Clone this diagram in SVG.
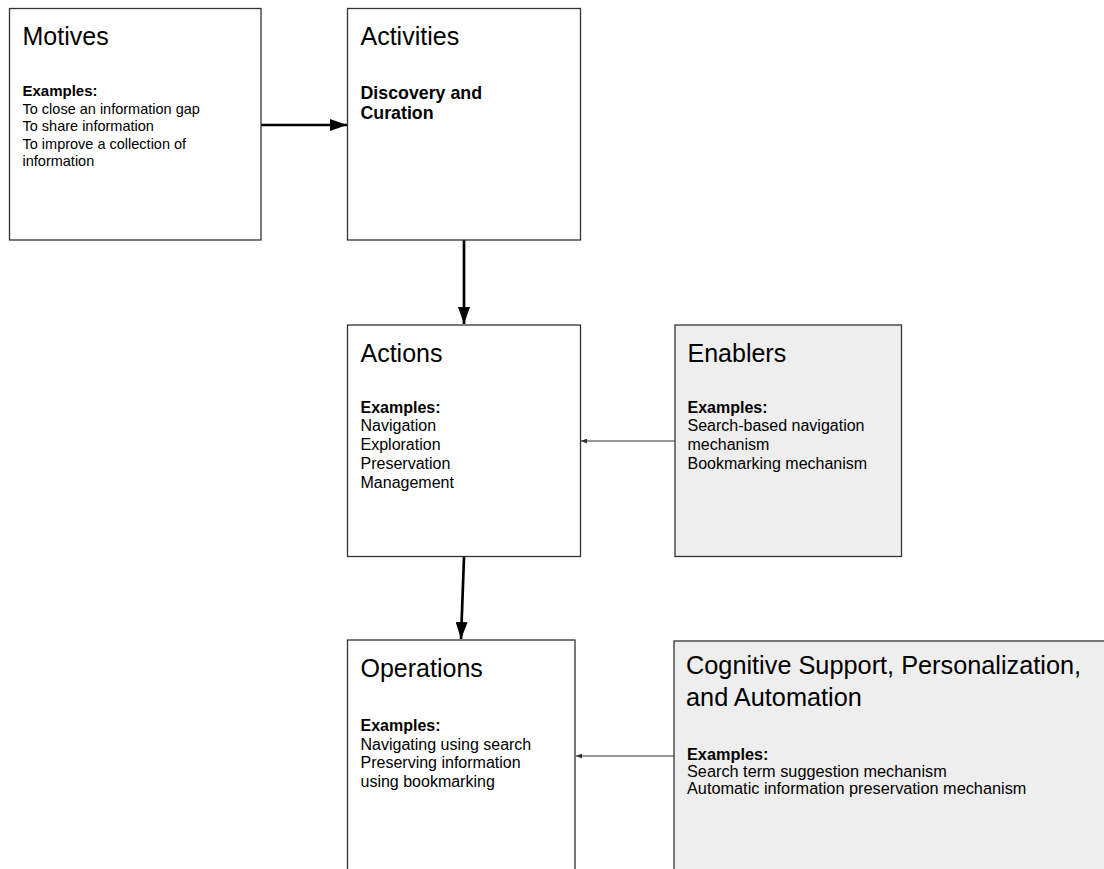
<svg xmlns="http://www.w3.org/2000/svg" width="1104" height="869" viewBox="0 0 1104 869">
<defs>
<style>
.box{fill:#ffffff;stroke:#333333;stroke-width:1.3}
.gray{fill:#eeeeee;stroke:#333333;stroke-width:1.3}
.title{font-family:"Liberation Sans",Arial,sans-serif;font-size:25px;fill:#000}
.b{font-family:"Liberation Sans",Arial,sans-serif;font-weight:bold;fill:#000}
.t{font-family:"Liberation Sans",Arial,sans-serif;fill:#000}
.thick{stroke:#000;stroke-width:2.7;fill:none}
.thin{stroke:#333;stroke-width:1.2;fill:none}
</style>
<marker id="big" markerUnits="userSpaceOnUse" markerWidth="17" markerHeight="12" refX="17" refY="6" orient="auto" viewBox="0 0 17 12">
<path d="M0,0 L17,6 L0,12 z" fill="#000"/>
</marker>
<marker id="small" markerUnits="userSpaceOnUse" markerWidth="6" markerHeight="5" refX="6" refY="2.5" orient="auto" viewBox="0 0 6 5">
<path d="M0,0 L6,2.5 L0,5 z" fill="#333"/>
</marker>
</defs>
<rect width="1104" height="869" fill="#ffffff"/>
<g id="connectors">
<line class="thick" x1="261" y1="125" x2="347" y2="125" marker-end="url(#big)"/>
<line class="thick" x1="464" y1="240" x2="464" y2="324" marker-end="url(#big)"/>
<line class="thick" x1="464" y1="557" x2="461" y2="639" marker-end="url(#big)"/>
<line class="thin" x1="675" y1="441" x2="581" y2="441" marker-end="url(#small)"/>
<line class="thin" x1="674" y1="756" x2="576" y2="756" marker-end="url(#small)"/>
</g>
<g id="motives">
<rect class="box" x="9.5" y="8.5" width="251.5" height="231.5"/>
<text class="title" x="22.5" y="45">Motives</text>
<text class="b" font-size="15" x="22.5" y="96">Examples:</text>
<text class="t" font-size="14.5" x="22.5" y="113.5">To close an information gap</text>
<text class="t" font-size="14.5" x="22.5" y="131">To share information</text>
<text class="t" font-size="14.5" x="22.5" y="148.5">To improve a collection of</text>
<text class="t" font-size="14.5" x="22.5" y="166">information</text>
</g>
<g id="activities">
<rect class="box" x="347.5" y="8.5" width="233" height="231.5"/>
<text class="title" x="360.5" y="45">Activities</text>
<text class="b" font-size="17.8" x="360.5" y="98.5">Discovery and</text>
<text class="b" font-size="17.8" x="360.5" y="119">Curation</text>
</g>
<g id="actions">
<rect class="box" x="347.5" y="325" width="233" height="231.5"/>
<text class="title" x="360.5" y="361.5">Actions</text>
<text class="b" font-size="16" x="360.5" y="412.5">Examples:</text>
<text class="t" font-size="16" x="360.5" y="431">Navigation</text>
<text class="t" font-size="16" x="360.5" y="450">Exploration</text>
<text class="t" font-size="16" x="360.5" y="468.5">Preservation</text>
<text class="t" font-size="16" x="360.5" y="487.5">Management</text>
</g>
<g id="enablers">
<rect class="gray" x="675" y="325" width="226.5" height="231.5"/>
<text class="title" x="687.5" y="361.5">Enablers</text>
<text class="b" font-size="16" x="687.5" y="412.5">Examples:</text>
<text class="t" font-size="16" x="687.5" y="431">Search-based navigation</text>
<text class="t" font-size="16" x="687.5" y="450">mechanism</text>
<text class="t" font-size="16" x="687.5" y="469">Bookmarking mechanism</text>
</g>
<g id="operations">
<rect class="box" x="347.5" y="640" width="227.5" height="240"/>
<text class="title" x="360.5" y="676.5">Operations</text>
<text class="b" font-size="16" x="360.5" y="731">Examples:</text>
<text class="t" font-size="16" x="360.5" y="749.5">Navigating using search</text>
<text class="t" font-size="16" x="360.5" y="768">Preserving information</text>
<text class="t" font-size="16" x="360.5" y="787">using bookmarking</text>
</g>
<g id="cognitive">
<rect class="gray" x="674" y="641" width="440" height="240"/>
<text class="title" font-size="25.3" x="686" y="673.5" style="font-size:25.3px">Cognitive Support, Personalization,</text>
<text class="title" x="686" y="706" style="font-size:25.3px">and Automation</text>
<text class="b" font-size="16.3" x="687" y="760">Examples:</text>
<text class="t" font-size="16.3" x="687" y="777">Search term suggestion mechanism</text>
<text class="t" font-size="16.3" x="687" y="794">Automatic information preservation mechanism</text>
</g>
</svg>
